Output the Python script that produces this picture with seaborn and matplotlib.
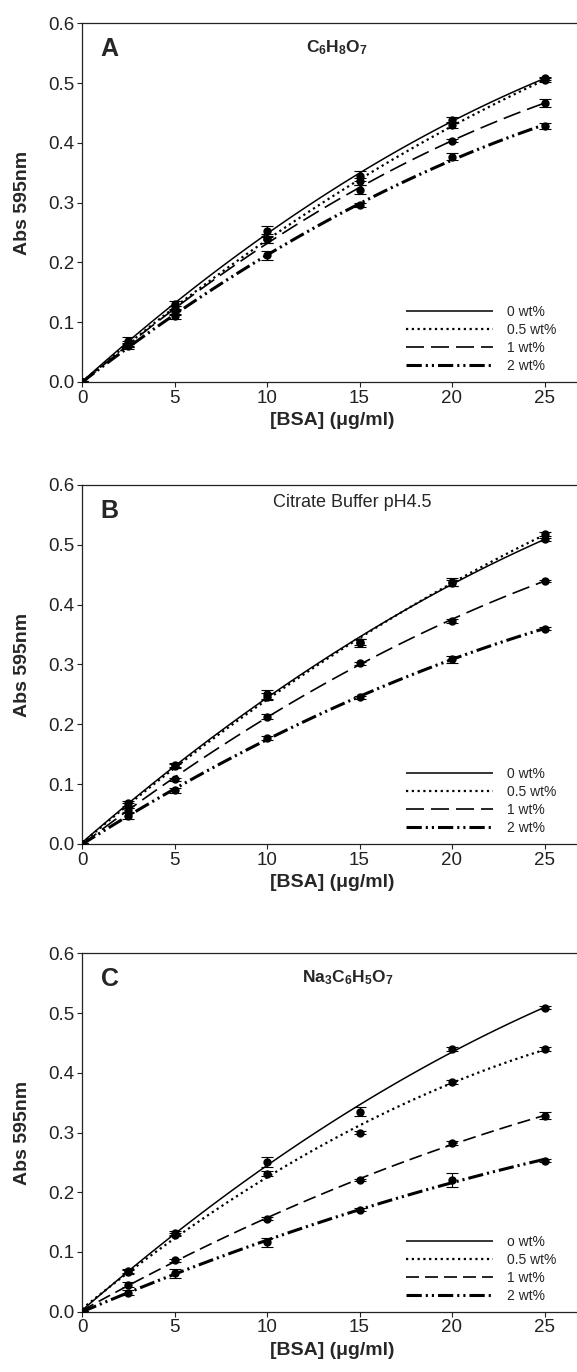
import numpy as np
import matplotlib
matplotlib.use("Agg")
import matplotlib.pyplot as plt
from matplotlib.lines import Line2D
import seaborn as sns

# ---------------- data ----------------
bsa = [0, 2.5, 5, 10, 15, 20, 25]

# Panel A: C6H8O7
a_0 = [0, 0.068, 0.131, 0.252, 0.345, 0.438, 0.508]
a_05 = [0, 0.064, 0.124, 0.240, 0.336, 0.430, 0.505]
a_1 = [0, 0.062, 0.117, 0.239, 0.322, 0.404, 0.467]
a_2 = [0, 0.060, 0.110, 0.212, 0.296, 0.377, 0.428]
a_0_err = [0.002, 0.007, 0.004, 0.009, 0.008, 0.005, 0.003]
a_05_err = [0.002, 0.005, 0.004, 0.007, 0.006, 0.005, 0.003]
a_1_err = [0.002, 0.004, 0.005, 0.006, 0.007, 0.003, 0.007]
a_2_err = [0.002, 0.004, 0.004, 0.008, 0.003, 0.006, 0.005]

# Panel B: citrate buffer pH 4.5
b_0 = [0, 0.068, 0.132, 0.250, 0.336, 0.438, 0.509]
b_05 = [0, 0.064, 0.130, 0.246, 0.338, 0.436, 0.518]
b_1 = [0, 0.057, 0.108, 0.213, 0.302, 0.373, 0.440]
b_2 = [0, 0.047, 0.090, 0.177, 0.245, 0.309, 0.360]
b_0_err = [0.002, 0.004, 0.003, 0.008, 0.007, 0.006, 0.003]
b_05_err = [0.002, 0.004, 0.003, 0.006, 0.005, 0.005, 0.003]
b_1_err = [0.002, 0.004, 0.003, 0.004, 0.003, 0.003, 0.002]
b_2_err = [0.002, 0.005, 0.004, 0.003, 0.002, 0.006, 0.003]

# Panel C: Na3C6H5O7
c_0 = [0, 0.068, 0.132, 0.251, 0.335, 0.440, 0.509]
c_05 = [0, 0.066, 0.129, 0.231, 0.300, 0.385, 0.440]
c_1 = [0, 0.045, 0.086, 0.156, 0.220, 0.282, 0.328]
c_2 = [0, 0.032, 0.064, 0.116, 0.171, 0.220, 0.253]
c_0_err = [0.002, 0.004, 0.003, 0.008, 0.007, 0.003, 0.002]
c_05_err = [0.002, 0.003, 0.003, 0.004, 0.002, 0.003, 0.003]
c_1_err = [0.002, 0.004, 0.003, 0.003, 0.002, 0.003, 0.006]
c_2_err = [0.002, 0.004, 0.008, 0.008, 0.002, 0.012, 0.002]

labels_ab = ["0 wt%", "0.5 wt%", "1 wt%", "2 wt%"]
labels_c = ["o wt%", "0.5 wt%", "1 wt%", "2 wt%"]
panel_letters = ["A", "B", "C"]
panel_titles = [r"$\mathbf{C_6H_8O_7}$", "Citrate Buffer pH4.5", r"$\mathbf{Na_3C_6H_5O_7}$"]
x_ticks = [0, 5, 10, 15, 20, 25]
y_ticks = [0.0, 0.1, 0.2, 0.3, 0.4, 0.5, 0.6]

# ---------------- style ----------------
sns.set_style("ticks")
plt.rcParams["font.family"] = ["Liberation Sans", "DejaVu Sans"]
plt.rcParams["mathtext.fontset"] = "custom"
plt.rcParams["mathtext.rm"] = "Liberation Sans"
plt.rcParams["mathtext.bf"] = "Liberation Sans:bold"
plt.rcParams["mathtext.it"] = "Liberation Sans:italic"

fig = plt.figure(figsize=(5.77, 13.72), dpi=100)

ax_left = 82 / 577
ax_width = 499.5 / 577
rects = [
    [ax_left, (1372 - 382) / 1372, ax_width, 358.5 / 1372],
    [ax_left, (1372 - 844) / 1372, ax_width, 359 / 1372],
    [ax_left, (1372 - 1311.7) / 1372, ax_width, 358.4 / 1372],
]

def styles(dash_ab):
    return [
        dict(lw=1.1, linestyle="-"),
        dict(lw=1.6, dashes=(1.0, 1.6)),
        dict(lw=1.2, dashes=dash_ab),
        dict(lw=2.2, dashes=(5, 1.3, 0.7, 1.3, 0.7, 1.3)),
    ]

panels = [
    ([a_0, a_05, a_1, a_2], [a_0_err, a_05_err, a_1_err, a_2_err], labels_ab, (10.8, 4.2)),
    ([b_0, b_05, b_1, b_2], [b_0_err, b_05_err, b_1_err, b_2_err], labels_ab, (10.8, 4.2)),
    ([c_0, c_05, c_1, c_2], [c_0_err, c_05_err, c_1_err, c_2_err], labels_c, (7.8, 3.6)),
]

for i, (series, errs, labs, dash) in enumerate(panels):
    ax = fig.add_axes(rects[i])
    st = styles(dash)
    handles = []
    for ys, es, s, lab in zip(series, errs, st, labs):
        sns.regplot(x=np.array(bsa), y=np.array(ys), order=2, ci=None, scatter=False,
                    ax=ax, line_kws=dict(color="black", solid_capstyle="butt",
                                         dash_capstyle="butt", **s))
        ax.errorbar(bsa, ys, yerr=es, fmt="o", color="black", ms=5, capsize=4,
                    elinewidth=0.8, capthick=0.8, zorder=4)
        handles.append(Line2D([], [], color="black", solid_capstyle="butt",
                              dash_capstyle="butt", **s))
    ax.set_xlim(0, 27)
    ax.set_ylim(0, 0.6)
    ax.set_xticks(x_ticks)
    ax.set_yticks(y_ticks)
    ax.set_xticklabels([str(t) for t in x_ticks])
    ax.set_yticklabels([f"{t:.1f}" for t in y_ticks])
    ax.tick_params(direction="out", length=3.5, width=0.8, labelsize=13.5,
                   colors="#222222", pad=2)
    for sp in ["left", "bottom", "top"]:
        ax.spines[sp].set_linewidth(0.9)
        ax.spines[sp].set_color("#222222")
    ax.spines["right"].set_visible(False)
    ax.set_xlabel("[BSA] (μg/ml)", fontsize=14, fontweight="bold")
    ax.set_ylabel("Abs 595nm", fontsize=14, fontweight="bold")
    ax.xaxis.set_label_coords(0.5, -0.084)
    ax.yaxis.set_label_coords(-0.102, 0.5)
    ax.text(1.0, 0.545, panel_letters[i], fontsize=18, fontweight="bold",
            ha="left", va="baseline")
    if i == 1:
        ax.text(14.6, 0.570, panel_titles[i], fontsize=13, ha="center", va="center")
    else:
        ax.text(13.8 if i == 0 else 14.35, 0.560, panel_titles[i], fontsize=12.5,
                ha="center", va="center")
    ax.legend(handles, labs, loc="upper left", bbox_to_anchor=(0.648, 0.214),
              frameon=False, fontsize=10, handlelength=6.3, handletextpad=1.0,
              labelspacing=0.28, borderpad=0, borderaxespad=0)

fig.savefig("out.png", dpi=100)
